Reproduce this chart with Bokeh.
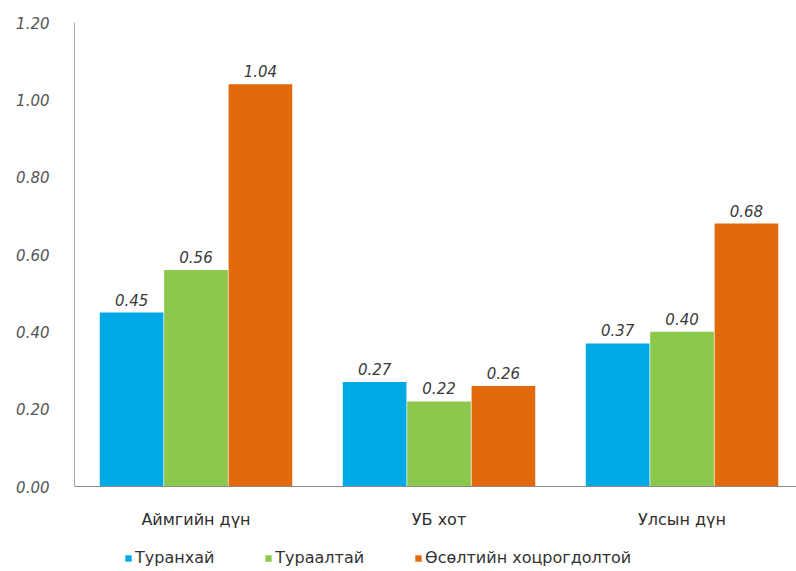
from bokeh.plotting import figure
from bokeh.models import Range1d, FixedTicker, Legend, LegendItem, ColumnDataSource, CustomJSTickFormatter
from bokeh.core.properties import value
from bokeh.embed import file_html
from bokeh.resources import INLINE

categories = ["Аймгийн дүн", "УБ хот", "Улсын дүн"]
series_names = ["Туранхай", "Тураалтай", "Өсөлтийн хоцрогдолтой"]
turankhai = [0.45, 0.27, 0.37]
turaaltai = [0.56, 0.22, 0.40]
osolt = [1.04, 0.26, 0.68]
y_ticks = [0.0, 0.2, 0.4, 0.6, 0.8, 1.0, 1.2]
colors = ["#00A9E6", "#8CC84B", "#E36A0C"]

FONT = "DejaVu Sans"

p = figure(width=796, height=571, output_backend="svg", toolbar_location=None,
           x_range=Range1d(0, 2.971), y_range=Range1d(-0.2198, 1.2),
           min_border_left=74, min_border_right=0, min_border_top=22, min_border_bottom=0)
p.outline_line_color = None
p.grid.visible = False

offsets = [-0.265, 0.0, 0.265]
bar_w = 0.262
renderers = []
for vals, off, col, name in zip([turankhai, turaaltai, osolt], offsets, colors, series_names):
    xs = [i + 0.5 + off for i in range(len(categories))]
    src = ColumnDataSource(dict(x=xs, top=vals, lab=["%.2f" % v for v in vals]))
    r = p.vbar(x="x", top="top", width=bar_w, source=src, fill_color=col, line_color=None)
    renderers.append((name, r))
    p.text(x="x", y="top", text="lab", source=src, text_align="center", text_baseline="bottom",
           y_offset=-7, text_font=value(FONT), text_font_style="italic", text_font_size="15px",
           text_color="#3a3a3a")

# y axis
p.yaxis.ticker = FixedTicker(ticks=y_ticks)
p.yaxis.formatter = CustomJSTickFormatter(code="return tick.toFixed(2);")
p.yaxis.bounds = (0, 1.2)
p.yaxis.major_tick_line_color = None
p.yaxis.minor_tick_line_color = None
p.yaxis.axis_line_color = "#a8a8a8"
p.yaxis.major_label_text_font = FONT
p.yaxis.major_label_text_font_style = "italic"
p.yaxis.major_label_text_font_size = "15px"
p.yaxis.major_label_text_color = "#555555"
p.yaxis.major_label_standoff = 19

# x axis (placed at y=0 inside the plot area)
p.xaxis.fixed_location = 0
p.xaxis.ticker = FixedTicker(ticks=[i + 0.5 for i in range(len(categories))])
p.xaxis.major_label_overrides = {i + 0.5: c for i, c in enumerate(categories)}
p.xaxis.major_tick_line_color = None
p.xaxis.minor_tick_line_color = None
p.xaxis.axis_line_color = "#8a8a8a"
p.xaxis.major_label_text_font = FONT
p.xaxis.major_label_text_font_size = "16px"
p.xaxis.major_label_text_color = "#2e2e2e"
p.xaxis.major_label_standoff = 17

legend = Legend(items=[LegendItem(label=n, renderers=[r]) for n, r in renderers],
                orientation="horizontal", location=(50, 4), padding=0, margin=0,
                spacing=50, glyph_width=8, glyph_height=8, label_standoff=3,
                label_text_font=FONT, label_text_font_size="16px", label_text_color="#333333",
                border_line_color=None, background_fill_alpha=0)
p.add_layout(legend)

open("out.html", "w").write(file_html(p, INLINE))
